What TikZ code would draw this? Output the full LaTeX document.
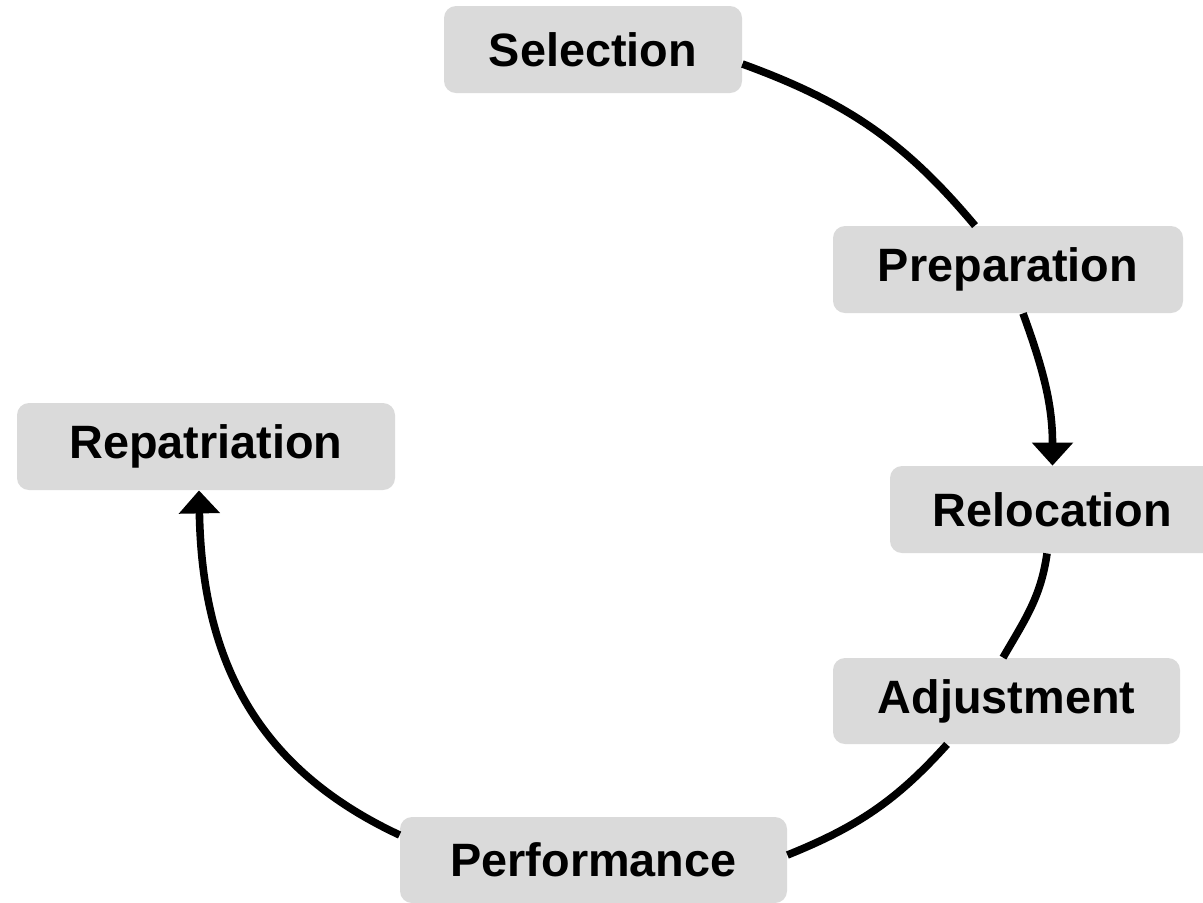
\documentclass[tikz,border=0pt]{standalone}
\usepackage{fontspec}
\setmainfont{Liberation Sans}
\usetikzlibrary{arrows.meta}
\definecolor{boxgray}{RGB}{218,218,218}
\tikzset{
  stage/.style={fill=boxgray, rounded corners=6pt, minimum height=43.5pt, inner sep=0pt,
    font=\fontsize{23.4pt}{28pt}\selectfont\bfseries, text=black},
  link/.style={line width=3.8pt, black},
  tipped/.style={link, -{Triangle[width=20pt,length=11.5pt]}}
}
\begin{document}
\begin{tikzpicture}[x=0.5pt,y=-0.5pt]
\useasboundingbox (0,0) rectangle (1203,902);
\node[stage, minimum width=149pt] (sel) at (593,49.5) {Selection};
\node[stage, minimum width=175pt] (prep) at (1008,269.5) {Preparation};
\node[stage, minimum width=162.5pt] (rel) at (1052.5,509.5) {Relocation};
\node[stage, minimum width=173.5pt, minimum height=43pt] (adj) at (1006.5,701) {Adjustment};
\node[stage, minimum width=193.5pt, minimum height=43pt] (perf) at (593.5,860) {Performance};
\node[stage, minimum width=189pt] (rep) at (206,446.5) {Repatriation};

\draw[link] ([yshift=-7.25pt]sel.east) to[out=-20,in=130] ([xshift=-16.5pt]prep.north);
\draw[tipped] ([xshift=7.5pt]prep.south) to[out=-70,in=90] (rel.north);
\draw[link] ([xshift=-2.75pt]rel.south) to[out=-98,in=60] ([xshift=-1.75pt]adj.north);
\draw[link] ([xshift=-29.75pt]adj.south) to[out=-132,in=22] ([yshift=2.5pt]perf.east);
\draw[tipped] ([yshift=12.5pt]perf.west) to[out=155,in=-89,looseness=1.05] ([xshift=-3.5pt]rep.south);
\end{tikzpicture}
\end{document}
